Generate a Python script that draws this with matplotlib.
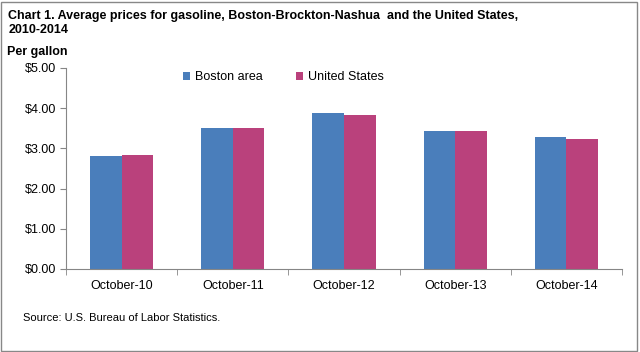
import matplotlib.pyplot as plt
import numpy as np
from matplotlib.patches import Rectangle

months = ['October-10', 'October-11', 'October-12', 'October-13', 'October-14']
boston = [2.81, 3.51, 3.88, 3.43, 3.28]
us = [2.84, 3.51, 3.83, 3.43, 3.23]
yticks = [0, 1, 2, 3, 4, 5]

fig = plt.figure(figsize=(6.4, 3.52), dpi=100)
ax = fig.add_axes([0.103, 0.236, 0.869, 0.571])

x = np.arange(len(months))
w = 0.285
ax.bar(x - w/2, boston, w, color='#4A7EBB', label='Boston area')
ax.bar(x + w/2, us, w, color='#BA417C', label='United States')

ax.set_xlim(-0.5, len(months) - 0.5)
ax.set_ylim(0, 5)
ax.set_yticks(yticks)
ax.set_yticklabels(['$%.2f' % v for v in yticks], fontsize=9, family='Liberation Sans')
ax.set_xticks(x)
ax.set_xticklabels(months, fontsize=9, family='Liberation Sans')
ax.set_xticks(np.arange(len(months) + 1) - 0.5, minor=True)
ax.tick_params(axis='x', which='major', length=0, pad=8)
ax.tick_params(axis='x', which='minor', length=4, color='#868686', direction='out')
ax.tick_params(axis='y', length=4, color='#868686', pad=3)

for s in ['top', 'right']:
    ax.spines[s].set_visible(False)
for s in ['left', 'bottom']:
    ax.spines[s].set_color('#868686')
    ax.spines[s].set_linewidth(0.8)

ax.legend(loc='upper left', bbox_to_anchor=(0.19, 1.04), ncol=2, frameon=False,
          handlelength=0.6, handleheight=0.6, columnspacing=2.6,
          handletextpad=0.4, prop={'family': 'Liberation Sans', 'size': 9})

fig.text(0.013, 0.935, 'Chart 1. Average prices for gasoline, Boston-Brockton-Nashua  and the United States,\n2010-2014',
         fontsize=9, fontweight='bold', family='Liberation Sans', va='center', linespacing=1.15)
fig.text(0.011, 0.852, 'Per gallon', fontsize=9, fontweight='bold', family='Liberation Sans', va='center')
fig.text(0.036, 0.096, 'Source: U.S. Bureau of Labor Statistics.', fontsize=8, family='Liberation Sans', va='center')

fig.patches.append(Rectangle((0.002, 0.003), 0.994, 0.992, transform=fig.transFigure,
                             fill=False, edgecolor='#888888', linewidth=1))

fig.savefig('out.png', dpi=100)
